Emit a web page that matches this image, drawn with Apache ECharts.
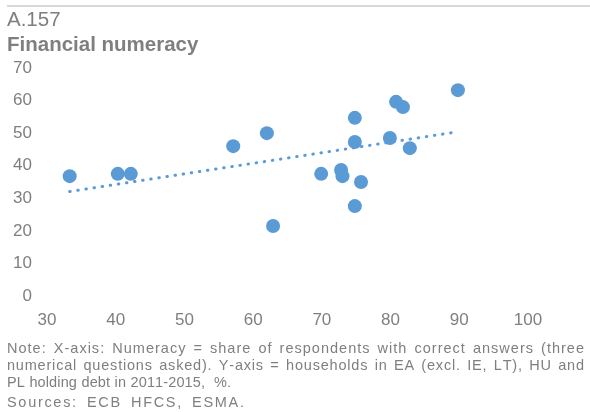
<!DOCTYPE html>
<html>
<head>
<meta charset="utf-8">
<script src="https://cdn.jsdelivr.net/npm/echarts@6/dist/echarts.min.js"></script>
<style>
html,body{margin:0;padding:0;background:#fff;}
#c{width:590px;height:412px;}
</style>
</head>
<body>
<div id="c"></div>
<script>
var numeracy = [33.3, 40.3, 42.2, 57.1, 62.0, 62.9, 69.9, 72.8, 73.0, 74.8, 74.8, 74.8, 75.7, 79.9, 80.8, 81.8, 82.8, 89.8];
var holdingDebt = [36.8, 37.5, 37.5, 46.0, 50.0, 21.5, 37.5, 38.7, 36.8, 54.7, 47.3, 27.6, 35.0, 48.5, 59.6, 58.0, 45.4, 63.2];
var xTicks = [30, 40, 50, 60, 70, 80, 90, 100];
var yTicks = [0, 10, 20, 30, 40, 50, 60, 70];
var noteLines = [
  'Note: X-axis: Numeracy = share of respondents with correct answers (three',
  'numerical questions asked). Y-axis = households in EA (excl. IE, LT), HU and',
  'PL holding debt in 2011-2015,  %.',
  'Sources: ECB HFCS, ESMA.'
];

// linear trendline (least squares) computed from the data
var n = numeracy.length, sx = 0, sy = 0;
for (var i = 0; i < n; i++) { sx += numeracy[i]; sy += holdingDebt[i]; }
var mx = sx / n, my = sy / n, sxy = 0, sxx = 0;
for (var i = 0; i < n; i++) { sxy += (numeracy[i]-mx)*(holdingDebt[i]-my); sxx += (numeracy[i]-mx)*(numeracy[i]-mx); }
var slope = sxy / sxx, icpt = my - slope * mx;
var xMin = Math.min.apply(null, numeracy), xMax = Math.max.apply(null, numeracy);
var trend = [[xMin, icpt + slope * xMin], [xMax, icpt + slope * xMax]];

var points = numeracy.map(function (x, i) { return [x, holdingDebt[i]]; });
var gray = '#7f7f7f';
var font = '"Liberation Sans", Arial, sans-serif';

var chart = echarts.init(document.getElementById('c'));
var graphics = [
  {type:'rect', left:7, top:5, shape:{width:583, height:2}, style:{fill:'#d9d9d9'}},
  {type:'text', left:7, top:10, style:{text:'A.157', font:'20.5px ' + font, fill:gray}},
  {type:'text', left:7, top:35, style:{text:'Financial numeracy', font:'bold 20.5px ' + font, fill:gray}}
];

// spread note lines to the reference's widths
var noteFont = '14.5px ' + font;
var ctx = document.createElement('canvas').getContext('2d');
ctx.font = noteFont;
var lineEnds = [584, 584, 231, 244];
var lineCenters = [349, 366, 383, 403];
noteLines.forEach(function (t, li) {
  var chars = t.split('');
  var widths = chars.map(function (c) { return ctx.measureText(c).width; });
  var total = widths.reduce(function (a, b) { return a + b; }, 0);
  var wsum = 0;
  chars.forEach(function (c, k) { if (k < chars.length - 1) wsum += (c === ' ' ? 3 : 1); });
  var unit = Math.max(0, (lineEnds[li] - 7 - total) / wsum);
  var x = 7;
  chars.forEach(function (c, k) {
    if (c !== ' ') {
      graphics.push({type:'text', x:x, y:lineCenters[li], silent:true,
        style:{text:c, font:noteFont, fill:gray, verticalAlign:'middle', align:'left'}});
    }
    x += widths[k] + unit * (c === ' ' ? 3 : 1);
  });
});

chart.setOption({
  animation: false,
  backgroundColor: '#fff',
  grid: {left:47, right:62, top:68, bottom:116},
  xAxis: {
    type:'value', min:xTicks[0], max:xTicks[xTicks.length-1], interval:10,
    axisLine:{show:false}, axisTick:{show:false}, splitLine:{show:false},
    axisLabel:{color:gray, fontSize:17, fontFamily:font, margin:16}
  },
  yAxis: {
    type:'value', min:yTicks[0], max:yTicks[yTicks.length-1], interval:10,
    axisLine:{show:false}, axisTick:{show:false}, splitLine:{show:false},
    axisLabel:{color:gray, fontSize:17, fontFamily:font, margin:15}
  },
  series: [
    {type:'scatter', data:points, symbolSize:14, itemStyle:{color:'#5b9bd5', opacity:1}, z:3},
    {type:'line', data:trend, symbol:'none', z:2,
     lineStyle:{color:'#5b9bd5', width:3, type:[0.5, 7.7], cap:'round'}}
  ],
  graphic: graphics
});
</script>
</body>
</html>
